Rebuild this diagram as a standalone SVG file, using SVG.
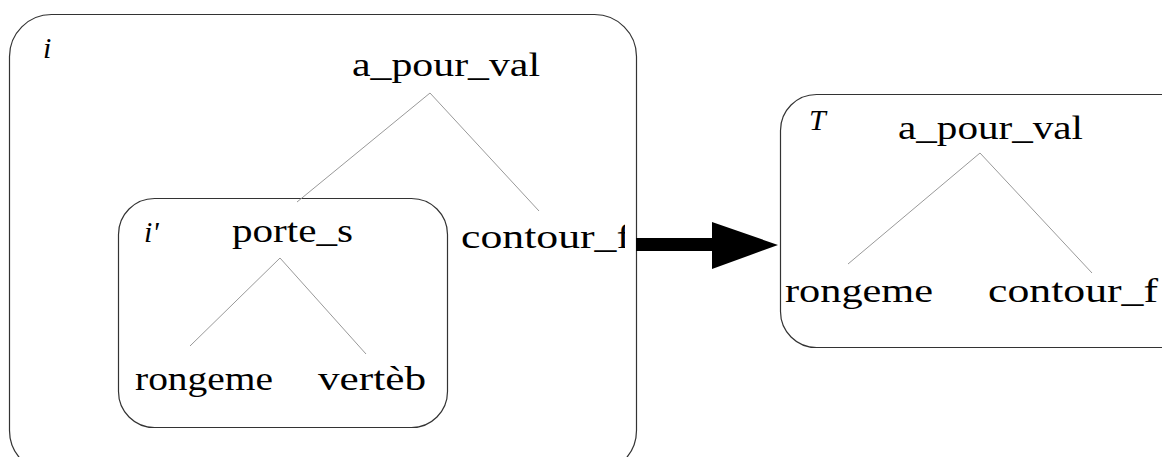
<svg xmlns="http://www.w3.org/2000/svg" width="1162" height="457" viewBox="0 0 1162 457">
<style>
.box{fill:none;stroke:#333;stroke-width:1.2}
.edge{stroke:#999;stroke-width:1;fill:none}
.lbl{font-family:"Liberation Serif","DejaVu Serif",serif;font-size:33px;fill:#000}
.var{font-family:"Liberation Serif",serif;font-style:italic;font-size:30px;fill:#000}
</style>
<defs>
<clipPath id="clipL"><rect x="0" y="0" width="625" height="457"/></clipPath>
<clipPath id="clipV"><rect x="0" y="0" width="426" height="457"/></clipPath>
</defs>
<rect width="1162" height="457" fill="#fff"/>
<g id="box-i">
<rect class="box" x="9.5" y="14.5" width="627" height="458" rx="42"/>
<text class="var" x="43" y="58">i</text>
</g>
<g id="box-i2">
<rect class="box" x="118.5" y="198.5" width="329" height="229" rx="36"/>
<text class="var" x="144" y="242">i'</text>
</g>
<g id="box-T">
<rect class="box" x="780.5" y="94.5" width="420" height="253" rx="36"/>
<text class="var" x="809" y="130">T</text>
</g>
<g id="n-apourval1"><text class="lbl" x="352" y="76" textLength="188" lengthAdjust="spacingAndGlyphs">a_pour_val</text></g>
<g id="n-contour1" clip-path="url(#clipL)"><text class="lbl" x="461" y="248" textLength="170" lengthAdjust="spacingAndGlyphs">contour_f</text></g>
<g id="n-porte"><text class="lbl" x="232" y="242" textLength="121" lengthAdjust="spacingAndGlyphs">porte_s</text></g>
<g id="n-rong1"><text class="lbl" x="135" y="390" textLength="138" lengthAdjust="spacingAndGlyphs">rongeme</text></g>
<g id="n-vert" clip-path="url(#clipV)"><text class="lbl" x="318" y="390" textLength="108" lengthAdjust="spacingAndGlyphs">vertèb</text></g>
<g id="n-apourval2"><text class="lbl" x="898" y="139" textLength="185" lengthAdjust="spacingAndGlyphs">a_pour_val</text></g>
<g id="n-rong2"><text class="lbl" x="785" y="302" textLength="148" lengthAdjust="spacingAndGlyphs">rongeme</text></g>
<g id="n-contour2"><text class="lbl" x="988" y="302" textLength="170" lengthAdjust="spacingAndGlyphs">contour_f</text></g>
<g id="connectors">
<line class="edge" x1="430" y1="93" x2="297" y2="202"/>
<line class="edge" x1="430" y1="93" x2="539" y2="211"/>
<line class="edge" x1="280" y1="258" x2="190" y2="346"/>
<line class="edge" x1="280" y1="258" x2="366" y2="354"/>
<line class="edge" x1="980" y1="153" x2="848" y2="264"/>
<line class="edge" x1="980" y1="153" x2="1092" y2="273"/>
<polygon points="636,238 712,238 712,222 778,245 712,269 712,251 636,251" fill="#000"/>
</g>
</svg>
